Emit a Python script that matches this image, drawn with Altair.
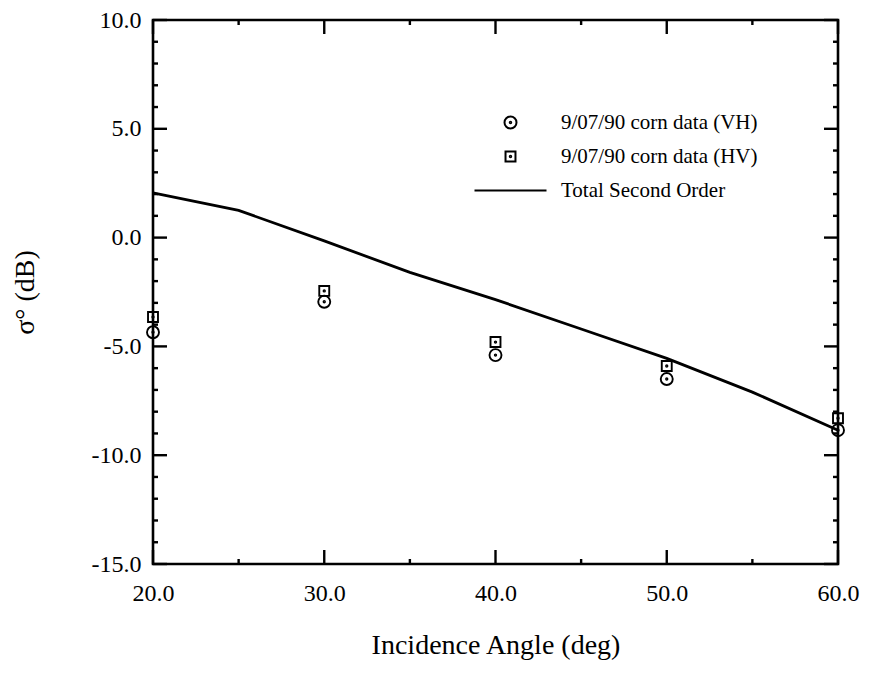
import altair as alt
import pandas as pd

# ---- data ----
angles_pts = [20, 30, 40, 50, 60]
vh_values = [-4.35, -2.95, -5.4, -6.5, -8.85]
hv_values = [-3.65, -2.45, -4.8, -5.9, -8.3]

angles_line = [20, 25, 30, 35, 40, 45, 50, 55, 60]
total_second_order = [2.05, 1.25, -0.15, -1.6, -2.85, -4.2, -5.55, -7.1, -8.85]

series_names = ["9/07/90 corn data (VH)", "9/07/90 corn data (HV)", "Total Second Order"]

x_major = [20, 30, 40, 50, 60]
x_minor = [25, 35, 45, 55]
y_major = [-15, -10, -5, 0, 5, 10]
y_minor = [v for v in range(-15, 11) if v % 5 != 0]

# ---- tables ----
pts = pd.DataFrame(
    {"angle": angles_pts + angles_pts,
     "sigma": vh_values + hv_values,
     "series": [series_names[0]] * len(angles_pts) + [series_names[1]] * len(angles_pts)}
)
line_df = pd.DataFrame({"angle": angles_line, "sigma": total_second_order})
xmaj_df = pd.DataFrame({"angle": x_major})
xmin_df = pd.DataFrame({"angle": x_minor})
ymaj_df = pd.DataFrame({"sigma": y_major})
ymin_df = pd.DataFrame({"sigma": y_minor})

W, H = 685, 544
FONT = "Liberation Serif"

xscale = alt.Scale(domain=[20, 60], nice=False, zero=False)
yscale = alt.Scale(domain=[-15, 10], nice=False, zero=False)

LBL = "replace(format(datum.value, '.1f'), '\u2212', '-')"
x_axis = alt.Axis(values=x_major, labelExpr=LBL,
                  title="Incidence Angle (deg)", grid=False, ticks=False, domain=False,
                  labelFlush=False, labelOverlap=False, labelPadding=17, titlePadding=26,
                  labelFont=FONT, labelFontSize=24, labelColor="black",
                  titleFont=FONT, titleFontSize=28, titleFontWeight="normal", titleColor="black")
y_axis = alt.Axis(values=y_major, labelExpr=LBL,
                  title="σ° (dB)", grid=False, ticks=False, domain=False,
                  labelOverlap=False, labelPadding=12, titlePadding=52,
                  labelFont=FONT, labelFontSize=24, labelColor="black",
                  titleFont=FONT, titleFontSize=28, titleFontWeight="normal", titleColor="black")

X = alt.X("angle:Q", scale=xscale, axis=x_axis)
Y = alt.Y("sigma:Q", scale=yscale, axis=y_axis)

circle_path = ("M -1,0 A 1,1 0 1,1 1,0 A 1,1 0 1,1 -1,0 Z "
               "M -0.12,0 A 0.12,0.12 0 1,1 0.12,0 A 0.12,0.12 0 1,1 -0.12,0 Z")
square_path = ("M -0.83,-0.83 L 0.83,-0.83 L 0.83,0.83 L -0.83,0.83 Z "
               "M -0.12,0 A 0.12,0.12 0 1,1 0.12,0 A 0.12,0.12 0 1,1 -0.12,0 Z")
line_path = "M -6,0 L 6,0"

line = alt.Chart(line_df).mark_line(color="black", strokeWidth=2.8).encode(x=X, y=Y)

points = alt.Chart(pts).mark_point(filled=False, stroke="black", strokeWidth=1.9, size=144, opacity=1).encode(
    x=X, y=Y,
    shape=alt.Shape("series:N",
                    scale=alt.Scale(domain=series_names, range=[circle_path, square_path, line_path]),
                    legend=alt.Legend(orient="none", legendX=347, legendY=92, title=None,
                                      symbolSize=144, symbolStrokeWidth=2, symbolStrokeColor="black",
                                      symbolFillColor="transparent", labelFont=FONT, labelFontSize=21,
                                      labelColor="black", labelOffset=40, labelLimit=400,
                                      rowPadding=12, padding=0)),
)

TW = 2.4
xt_bot_maj = alt.Chart(xmaj_df).mark_rule(color="black", strokeWidth=TW).encode(
    x=X, y=alt.value(H), y2=alt.value(H - 14))
xt_top_maj = alt.Chart(xmaj_df).mark_rule(color="black", strokeWidth=TW).encode(
    x=X, y=alt.value(0), y2=alt.value(14))
xt_bot_min = alt.Chart(xmin_df).mark_rule(color="black", strokeWidth=TW).encode(
    x=X, y=alt.value(H), y2=alt.value(H - 5))
xt_top_min = alt.Chart(xmin_df).mark_rule(color="black", strokeWidth=TW).encode(
    x=X, y=alt.value(0), y2=alt.value(5))
yt_l_maj = alt.Chart(ymaj_df).mark_rule(color="black", strokeWidth=TW).encode(
    y=Y, x=alt.value(0), x2=alt.value(14))
yt_r_maj = alt.Chart(ymaj_df).mark_rule(color="black", strokeWidth=TW).encode(
    y=Y, x=alt.value(W), x2=alt.value(W - 14))
yt_l_min = alt.Chart(ymin_df).mark_rule(color="black", strokeWidth=TW).encode(
    y=Y, x=alt.value(0), x2=alt.value(5))
yt_r_min = alt.Chart(ymin_df).mark_rule(color="black", strokeWidth=TW).encode(
    y=Y, x=alt.value(W), x2=alt.value(W - 5))

chart = alt.layer(
    line, points,
    xt_bot_maj, xt_top_maj, xt_bot_min, xt_top_min,
    yt_l_maj, yt_r_maj, yt_l_min, yt_r_min,
).properties(
    width=W, height=H,
    autosize=alt.AutoSizeParams(type="none"),
    padding={"left": 153, "top": 20, "right": 31, "bottom": 111},
    background="white",
).configure_view(
    stroke="black", strokeWidth=2.6
).configure_axis(
    labelFont=FONT, labelFontSize=24, labelColor="black",
    titleFont=FONT, titleFontSize=28, titleFontWeight="normal", titleColor="black",
)

chart.save("out.html", embed_options={"renderer": "svg", "actions": False})
